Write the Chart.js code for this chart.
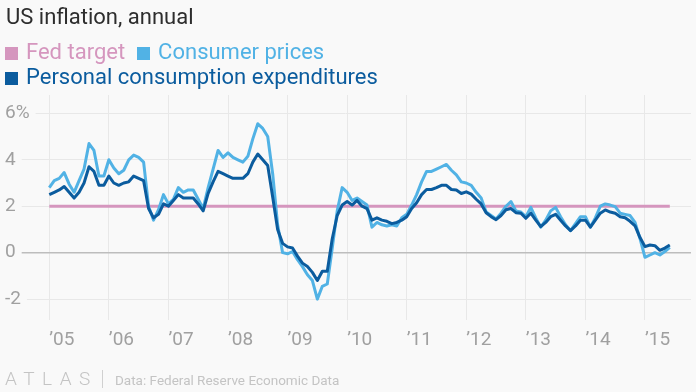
<!DOCTYPE html>
<html>
<head>
<meta charset="utf-8">
<script src="https://cdn.jsdelivr.net/npm/chart.js@4"></script>
<style>
  body { margin: 0; background: #f9f9f9; font-family: Roboto, "Noto Sans", sans-serif; }
  #wrap { position: relative; width: 696px; height: 392px; overflow: hidden; }
  #chart { position: absolute; left: 0; top: 0; }
  .title { position: absolute; left: 6px; top: 6px; font-size: 22px; line-height: 22px; color: #2d2d2d; }
  .legend { position: absolute; left: 5px; font-size: 22px; line-height: 22px; white-space: nowrap; }
  .legend span.item { display: inline-block; margin-right: 12px; }
  .legend i { display: inline-block; width: 13px; height: 13px; margin-right: 8px; vertical-align: -1px; }
  .footer { position: absolute; top: 373px; color: #c4c4c4; }
  .logo { left: 5px; top: 369px; font-size: 19px; font-weight: 300; letter-spacing: 7.5px; line-height: 19px; }
  .sep { position: absolute; left: 102px; top: 370px; width: 1px; height: 18px; background: #d0d0d0; }
  .source { left: 115px; font-size: 13.5px; line-height: 14px; }
</style>
</head>
<body>
<div id="wrap">
  <canvas id="chart" width="696" height="392"></canvas>
  <div class="title">US inflation, annual</div>
  <div class="legend" style="top:41px">
    <span class="item" style="color:#d596be"><i style="background:#d596be"></i>Fed target</span><span class="item" style="color:#51b2e5"><i style="background:#51b2e5"></i>Consumer prices</span>
  </div>
  <div class="legend" style="top:66px">
    <span class="item" style="color:#0b5c9e"><i style="background:#0b5c9e"></i>Personal consumption expenditures</span>
  </div>
  <div class="footer logo">ATLAS</div>
  <div class="sep"></div>
  <div class="footer source">Data: Federal Reserve Economic Data</div>
</div>
<script>
// monthly, Jan 2005 - Jun 2015, % change from a year earlier
let cpi = [
  2.8, 3.1, 3.2, 3.45, 2.95, 2.6, 3.1, 3.6, 4.7, 4.4, 3.3, 3.3,
  4.0, 3.65, 3.4, 3.55, 4.0, 4.2, 4.1, 3.9, 2.0, 1.4, 1.85, 2.5,
  2.1, 2.3, 2.8, 2.6, 2.7, 2.7, 2.3, 1.9, 2.8, 3.6, 4.4, 4.1,
  4.3, 4.1, 4.0, 3.9, 4.15, 4.9, 5.55, 5.35, 5.0, 3.4, 1.2, 0.0,
  -0.05, 0.05, -0.3, -0.6, -0.95, -1.2, -2.0, -1.45, -1.35, 0.2, 1.8, 2.8,
  2.6, 2.25, 2.35, 2.2, 2.05, 1.1, 1.3, 1.2, 1.15, 1.2, 1.15, 1.5,
  1.65, 2.05, 2.5, 3.05, 3.5, 3.5, 3.6, 3.7, 3.8, 3.55, 3.35, 3.05,
  3.0, 2.9, 2.6, 2.35, 1.75, 1.6, 1.45, 1.7, 2.0, 2.2, 1.8, 1.75,
  1.55, 1.95, 1.5, 1.1, 1.4, 1.8, 1.95, 1.55, 1.2, 0.95, 1.25, 1.55,
  1.55, 1.1, 1.5, 2.0, 2.1, 2.05, 1.98, 1.7, 1.65, 1.6, 1.3, 0.6,
  -0.2, -0.1, 0.0, -0.1, 0.05, 0.23
];
let pce = [
  2.5, 2.6, 2.7, 2.85, 2.6, 2.35, 2.6, 3.0, 3.7, 3.5, 2.9, 2.9,
  3.3, 3.0, 2.9, 3.0, 3.05, 3.3, 3.2, 3.1, 1.9, 1.5, 1.65, 2.1,
  2.0, 2.25, 2.5, 2.35, 2.35, 2.35, 2.1, 1.8, 2.55, 3.05, 3.5, 3.4,
  3.3, 3.2, 3.2, 3.2, 3.4, 3.9, 4.25, 4.0, 3.75, 2.4, 1.0, 0.4,
  0.25, 0.2, -0.15, -0.45, -0.6, -0.85, -1.2, -0.8, -0.8, 0.6, 1.6, 2.05,
  2.2, 2.05, 2.25, 2.0, 1.9, 1.4, 1.5, 1.4, 1.35, 1.25, 1.3, 1.4,
  1.55, 1.9, 2.15, 2.5, 2.72, 2.72, 2.8, 2.9, 2.9, 2.72, 2.7, 2.55,
  2.62, 2.52, 2.3, 2.1, 1.72, 1.55, 1.42, 1.6, 1.85, 1.9, 1.72, 1.7,
  1.48, 1.7, 1.4, 1.12, 1.3, 1.55, 1.65, 1.4, 1.15, 0.95, 1.15, 1.4,
  1.4, 1.1, 1.4, 1.7, 1.84, 1.75, 1.7, 1.55, 1.5, 1.35, 1.15, 0.65,
  0.26, 0.33, 0.3, 0.1, 0.2, 0.33
];
let fedTarget = 2;
let yearTicks = [0, 12, 24, 36, 48, 60, 72, 84, 96, 108, 120]; // month index of each January
let yearLabels = ["’05", "’06", "’07", "’08", "’09", "’10", "’11", "’12", "’13", "’14", "’15"];
let yTicks = [-2, 0, 2, 4, 6];

let bg = "#f9f9f9";

function toPoints(arr) {
  return arr.map((v, i) => ({ x: i, y: v }));
}

window.onload = function () {
  let ctx = document.getElementById("chart").getContext("2d");
  let last = cpi.length - 1;
  new Chart(ctx, {
    type: "line",
    data: {
      datasets: [
        { label: "Personal consumption expenditures", data: toPoints(pce), borderColor: "#0b5c9e", borderWidth: 3 },
        { label: "Consumer prices", data: toPoints(cpi), borderColor: "#51b2e5", borderWidth: 3 },
        { label: "Fed target", data: [{ x: 0, y: fedTarget }, { x: last, y: fedTarget }], borderColor: "#d596be", borderWidth: 3 }
      ]
    },
    options: {
      responsive: false,
      animation: false,
      events: [],
      layout: { padding: { top: 95, right: 5, bottom: 32, left: 0 } },
      elements: {
        point: { radius: 0 },
        line: { tension: 0, borderJoinStyle: "round", borderCapStyle: "butt" }
      },
      plugins: { legend: { display: false }, tooltip: { enabled: false } },
      scales: {
        x: {
          type: "linear",
          min: -9.93,
          max: 129.27,
          afterBuildTicks: (axis) => { axis.ticks = yearTicks.map((v) => ({ value: v })); },
          afterFit: (axis) => { axis.height = 40; },
          grid: { color: "#e8e8e8", lineWidth: 1, drawTicks: false },
          border: { display: false },
          ticks: {
            align: "start",
            autoSkip: false,
            maxRotation: 0,
            padding: 9,
            color: "#a0a0a0",
            font: { family: "Roboto", size: 19 },
            callback: (v, i) => yearLabels[i]
          }
        },
        y: {
          min: -2.9,
          max: 6.79,
          afterBuildTicks: (axis) => { axis.ticks = yTicks.map((v) => ({ value: v })); },
          afterFit: (axis) => { axis.width = 0; },
          grid: {
            drawTicks: false,
            color: (c) => (c.tick && c.tick.value === 0 ? "#bdbdbd" : "#e8e8e8"),
            lineWidth: (c) => (c.tick && c.tick.value === 0 ? 1.5 : 1)
          },
          border: { display: false },
          ticks: {
            mirror: true,
            crossAlign: "near",
            padding: 5,
            color: "#a0a0a0",
            font: { family: "Roboto", size: 19 },
            showLabelBackdrop: true,
            backdropColor: bg,
            backdropPadding: { left: 5, right: 6, top: 2, bottom: 2 },
            callback: (v) => (v === 6 ? "6%" : String(v))
          }
        }
      }
    }
  });
};
</script>
</body>
</html>
